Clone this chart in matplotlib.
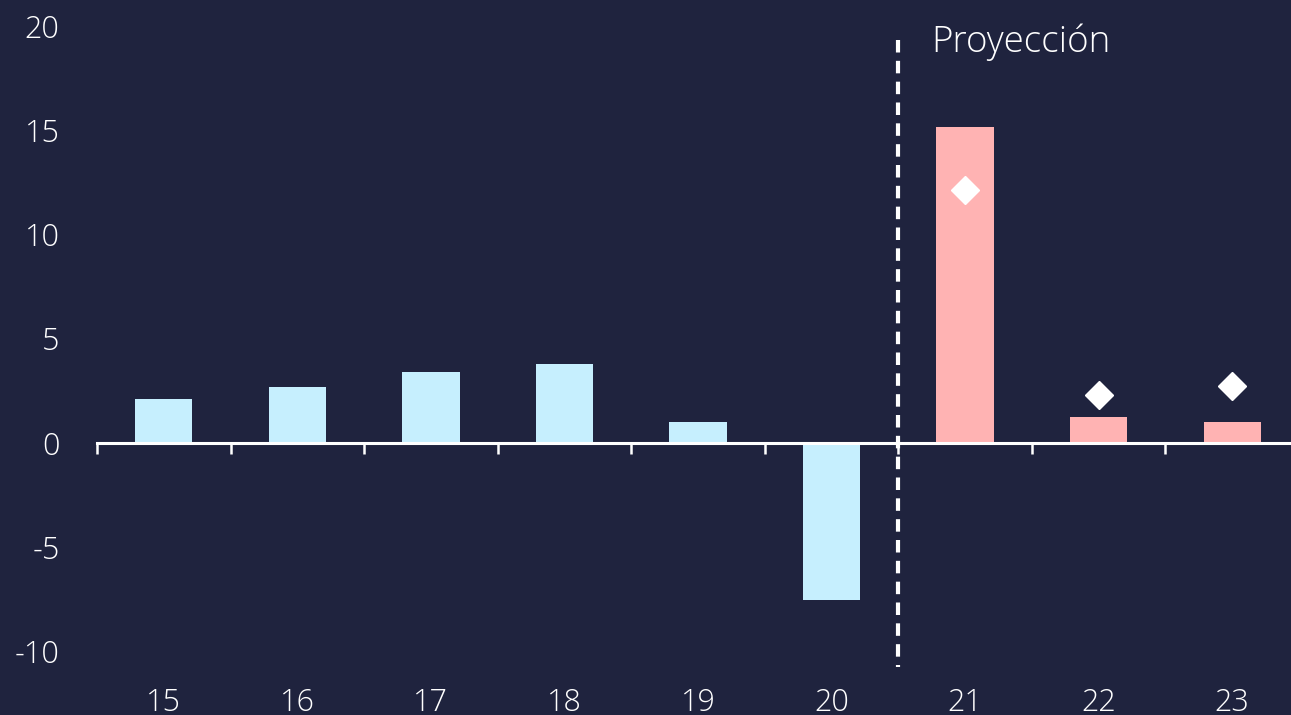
import matplotlib.pyplot as plt

plt.rcParams['font.family'] = ['Open Sans', 'DejaVu Sans']
plt.rcParams['font.weight'] = 'light'
plt.rcParams['axes.unicode_minus'] = False

# datos
years = ['15', '16', '17', '18', '19', '20', '21', '22', '23']
historic = [2.10, 2.67, 3.39, 3.78, 0.99, -7.55]
projection = [15.16, 1.23, 0.99]
diamonds = [12.15, 2.29, 2.74]

bg = '#1f233e'
blue = '#c6effe'
pink = '#ffb3b3'

fig = plt.figure(figsize=(12.91, 7.15), dpi=100, facecolor=bg)
ax = fig.add_axes([97 / 1291, 64 / 715, 1194 / 1291, 625 / 715])
ax.set_facecolor(bg)

n_hist = len(historic)
x_hist = list(range(n_hist))
x_proj = list(range(n_hist, len(years)))

ax.bar(x_hist, historic, width=0.43, color=blue, zorder=2)
ax.bar(x_proj, projection, width=0.43, color=pink, zorder=2)
ax.plot(x_proj, diamonds, linestyle='none', marker='D', markersize=14,
        color='white', zorder=3)

# linea de proyeccion
ax.plot([n_hist - 0.5, n_hist - 0.5], [19.33, -10.75], color='white', lw=3,
        dashes=(3, 2), clip_on=False, zorder=6)
ax.text(n_hist - 0.25, 18.76, 'Proyección', color='white', fontsize=26.5,
        ha='left', va='baseline')

ax.set_xlim(-0.5, 8.44)
ax.set_ylim(-10, 20)
ax.set_yticks(range(-10, 21, 5))

for s in ['top', 'right', 'left']:
    ax.spines[s].set_visible(False)
ax.spines['bottom'].set_position(('data', 0))
ax.spines['bottom'].set_color('white')
ax.spines['bottom'].set_linewidth(2.2)
ax.spines['bottom'].set_zorder(5)

ax.set_xticks([i - 0.5 for i in range(len(years))])
ax.set_xticklabels([])
ax.tick_params(axis='x', direction='out', length=8, width=1.8, colors='white')
ax.tick_params(axis='y', length=0, pad=27, labelsize=22, labelcolor='white')

sec = ax.secondary_xaxis('bottom')
sec.set_xticks(range(len(years)), years)
sec.tick_params(length=0, pad=26, labelsize=22, labelcolor='white')
sec.spines['bottom'].set_visible(False)

fig.savefig('out.png', dpi=100, facecolor=bg)
